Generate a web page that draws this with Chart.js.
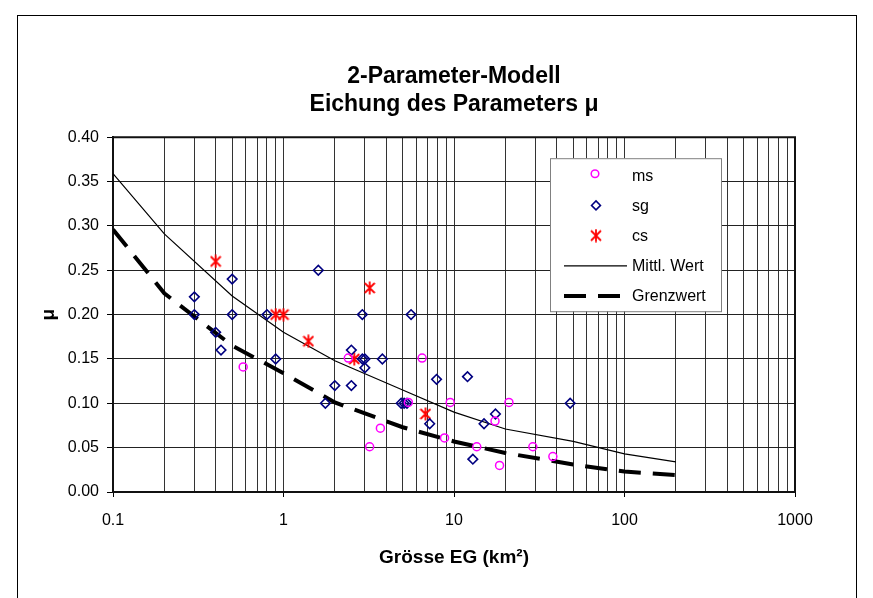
<!DOCTYPE html>
<html lang="de">
<head>
<meta charset="utf-8">
<title>2-Parameter-Modell</title>
<script src="https://cdn.jsdelivr.net/npm/chart.js@4.4.0/dist/chart.umd.min.js"></script>
<style>
  body { margin: 0; background: #fff; }
</style>
</head>
<body>
<canvas id="myChart" width="873" height="598"></canvas>
<script>
// curves: mean value and limit value
var lineX  = [0.1, 0.2, 0.5, 1, 2, 5, 10, 20, 50, 100, 200];
var mittlY = [0.359, 0.291, 0.221, 0.180, 0.148, 0.115, 0.090, 0.071, 0.057, 0.043, 0.034];
var grenzY = [0.296, 0.224, 0.165, 0.134, 0.101, 0.073, 0.057, 0.044, 0.031, 0.023, 0.019];

// measured points
var msX = [2.4, 0.58, 6.5, 5.4, 9.5, 21, 17.4, 3.7, 8.8, 3.2, 13.6, 29, 38, 18.5];
var msY = [0.151, 0.141, 0.151, 0.101, 0.101, 0.101, 0.080, 0.072, 0.061, 0.051, 0.051, 0.051, 0.040, 0.030];

var sgX = [0.3, 0.3, 0.4, 0.43, 0.5, 0.5, 0.8, 0.9, 1.6, 1.76, 2.0, 2.5, 2.5, 2.9, 2.9, 3.0, 3.0, 3.8,
           4.9, 5.1, 5.3, 5.6, 7.2, 7.9, 12, 12.9, 15, 17.5, 48];
var sgY = [0.22, 0.20, 0.18, 0.16, 0.24, 0.20, 0.20, 0.15, 0.25, 0.10, 0.12, 0.16, 0.12, 0.20, 0.15, 0.15, 0.14, 0.15,
           0.10, 0.10, 0.10, 0.20, 0.077, 0.127, 0.13, 0.037, 0.077, 0.088, 0.10];

var csX = [0.4, 0.9, 1.0, 1.4, 2.6, 3.2, 6.8];
var csY = [0.26, 0.20, 0.20, 0.17, 0.15, 0.23, 0.088];

// axis ticks
var xLabels = [0.1, 1, 10, 100, 1000];
var yMin = 0, yMax = 0.4, yStep = 0.05;

var FONT = "'Liberation Sans', Arial, sans-serif";

function pts(xs, ys) {
  return xs.map(function (x, i) { return { x: x, y: ys[i] }; });
}

// vertical grid lines: 1..9 in every decade
var xGrid = [];
for (var d = 0; d < xLabels.length - 1; d++) {
  for (var k = 1; k < 10; k++) xGrid.push(Number((xLabels[d] * k).toPrecision(3)));
}
xGrid.push(xLabels[xLabels.length - 1]);

// excel-like star marker (X plus vertical bar)
var star = document.createElement('canvas');
star.width = 12; star.height = 14;
var sc = star.getContext('2d');
sc.strokeStyle = '#ff0000';
sc.lineWidth = 1.8;
sc.beginPath();
sc.moveTo(6, 0.5); sc.lineTo(6, 13.5);
sc.moveTo(1, 2); sc.lineTo(11, 12);
sc.moveTo(11, 2); sc.lineTo(1, 12);
sc.stroke();

// white page, outer frame and plot border
var frame = {
  id: 'frame',
  beforeDraw: function (chart) {
    var ctx = chart.ctx;
    ctx.save();
    ctx.fillStyle = '#fff';
    ctx.fillRect(0, 0, chart.width, chart.height);
    ctx.strokeStyle = '#000';
    ctx.lineWidth = 1;
    ctx.strokeRect(17.5, 15.5, 839, 620);
    ctx.restore();
  },
  afterDatasetsDraw: function (chart) {
    var a = chart.chartArea, ctx = chart.ctx;
    ctx.save();
    ctx.strokeStyle = '#111';
    ctx.lineWidth = 2;
    ctx.beginPath();
    ctx.moveTo(a.left, a.top);
    ctx.lineTo(a.right, a.top);
    ctx.lineTo(a.right, a.bottom);
    ctx.stroke();
    ctx.restore();
  }
};

// legend box inside the plot, like the excel original
var legendBox = {
  id: 'legendBox',
  afterDraw: function (chart) {
    var a = chart.chartArea, ctx = chart.ctx;
    var left = a.left + 437, top = a.top + 21, w = 171, h = 153;
    ctx.save();
    ctx.fillStyle = '#fff';
    ctx.fillRect(left, top, w, h);
    ctx.strokeStyle = '#808080';
    ctx.lineWidth = 1;
    ctx.strokeRect(left + 0.5, top + 0.5, w, h);

    chart.data.datasets.forEach(function (ds, i) {
      var y = top + 17 + i * 30.2;
      var mx = left + 46;
      ctx.save();
      if (ds.showLine) {
        ctx.strokeStyle = ds.borderColor;
        ctx.lineWidth = ds.borderWidth;
        ctx.setLineDash(ds.borderDash || []);
        ctx.beginPath();
        ctx.moveTo(left + 14, y);
        ctx.lineTo(left + (ds.borderDash ? 70 : 77), y);
        ctx.stroke();
      } else if (ds.pointStyle === 'circle') {
        ctx.strokeStyle = ds.borderColor;
        ctx.lineWidth = 1.5;
        ctx.beginPath();
        ctx.arc(mx - 1, y - 1.5, 3.8, 0, Math.PI * 2);
        ctx.stroke();
      } else if (ds.pointStyle === 'rectRot') {
        ctx.strokeStyle = ds.borderColor;
        ctx.lineWidth = 1.5;
        ctx.beginPath();
        ctx.moveTo(mx, y - 4.5);
        ctx.lineTo(mx + 4.5, y);
        ctx.lineTo(mx, y + 4.5);
        ctx.lineTo(mx - 4.5, y);
        ctx.closePath();
        ctx.stroke();
      } else {
        ctx.drawImage(star, mx - 6, y - 7);
      }
      ctx.restore();
      ctx.fillStyle = '#000';
      ctx.font = '16px ' + FONT;
      ctx.textBaseline = 'middle';
      ctx.textAlign = 'left';
      ctx.fillText(ds.label, left + 82, y + 1);
    });
    ctx.restore();
  }
};

var config = {
  type: 'scatter',
  data: {
    datasets: [
      {
        label: 'ms',
        data: pts(msX, msY),
        pointStyle: 'circle',
        pointRadius: 4,
        borderColor: '#ff00ff',
        backgroundColor: 'rgba(0,0,0,0)',
        borderWidth: 1.5
      },
      {
        label: 'sg',
        data: pts(sgX, sgY),
        pointStyle: 'rectRot',
        pointRadius: 4.8,
        borderColor: '#000080',
        backgroundColor: 'rgba(0,0,0,0)',
        borderWidth: 1.6
      },
      {
        label: 'cs',
        data: pts(csX, csY),
        pointStyle: star,
        pointRadius: 5,
        borderColor: '#ff0000',
        backgroundColor: '#ff0000'
      },
      {
        label: 'Mittl. Wert',
        data: pts(lineX, mittlY),
        showLine: true,
        pointRadius: 0,
        borderColor: '#000',
        borderWidth: 1.2,
        tension: 0
      },
      {
        label: 'Grenzwert',
        data: pts(lineX, grenzY),
        showLine: true,
        pointRadius: 0,
        borderColor: '#000',
        borderWidth: 4,
        borderDash: [22, 12],
        borderCapStyle: 'butt',
        tension: 0
      }
    ]
  },
  options: {
    responsive: false,
    animation: false,
    layout: { padding: { left: 0, right: 78, top: 0, bottom: 0 } },
    plugins: {
      legend: { display: false },
      tooltip: { enabled: false },
      title: {
        display: true,
        fullSize: false,
        text: ['2-Parameter-Modell', 'Eichung des Parameters \u03bc'],
        color: '#000',
        font: { family: FONT, size: 23, weight: 'bold', lineHeight: 1.2 },
        padding: { top: 63, bottom: 19 }
      }
    },
    scales: {
      x: {
        type: 'logarithmic',
        min: xLabels[0],
        max: xLabels[xLabels.length - 1],
        afterBuildTicks: function (axis) {
          axis.ticks = xGrid.map(function (v) { return { value: v }; });
        },
        afterFit: function (s) { s.height = 106; },
        grid: {
          color: '#333',
          lineWidth: 1,
          tickLength: 5,
          tickColor: function (c) {
            return c.tick && xLabels.indexOf(c.tick.value) >= 0 ? '#000' : 'rgba(0,0,0,0)';
          }
        },
        border: { color: '#111', width: 2 },
        ticks: {
          autoSkip: false,
          maxRotation: 0,
          minRotation: 0,
          padding: 14,
          color: '#000',
          font: { family: FONT, size: 16 },
          callback: function (v) { return xLabels.indexOf(v) >= 0 ? String(v) : ''; }
        },
        title: {
          display: true,
          text: 'Grösse EG (km²)',
          color: '#000',
          font: { family: FONT, size: 19, weight: 'bold', lineHeight: 1.2 },
          padding: { top: 0, bottom: 29 }
        }
      },
      y: {
        min: yMin,
        max: yMax,
        afterFit: function (s) { s.width = 113; },
        grid: { color: '#222', lineWidth: 1, tickLength: 6, tickColor: '#000' },
        border: { color: '#111', width: 2 },
        ticks: {
          stepSize: yStep,
          padding: 8,
          color: '#000',
          font: { family: FONT, size: 16 },
          callback: function (v) { return v.toFixed(2); }
        },
        title: {
          display: true,
          text: '\u03bc',
          color: '#000',
          font: { family: FONT, size: 19, weight: 'bold', lineHeight: 1.2 },
          padding: { top: 37, bottom: 0 }
        }
      }
    }
  },
  plugins: [frame, legendBox]
};

var myChart = new Chart(document.getElementById('myChart'), config);
</script>
</body>
</html>
